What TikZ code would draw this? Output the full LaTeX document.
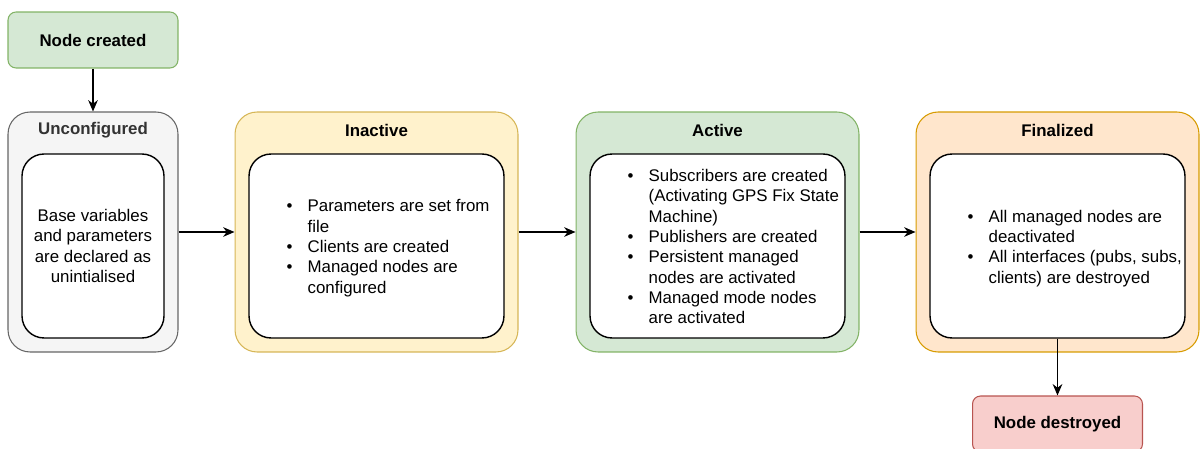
\documentclass[tikz,border=0pt]{standalone}
\usepackage{fontspec}
\setmainfont{Liberation Sans}
\usetikzlibrary{arrows.meta,positioning}

\definecolor{greenfill}{HTML}{D5E8D4}  \definecolor{greenline}{HTML}{82B366}
\definecolor{greyfill}{HTML}{F5F5F5}   \definecolor{greyline}{HTML}{666666}
\definecolor{yellowfill}{HTML}{FFF2CC} \definecolor{yellowline}{HTML}{D6B656}
\definecolor{orangefill}{HTML}{FFE6CC} \definecolor{orangeline}{HTML}{D79B00}
\definecolor{redfill}{HTML}{F8CECC}    \definecolor{redline}{HTML}{B85450}
\definecolor{greytext}{HTML}{333333}

\newcommand{\steplist}[1]{\begin{tabular}{@{}p{0.42cm}@{}l@{}}#1\end{tabular}}

\begin{document}
\begin{tikzpicture}[x=0.02cm, y=-0.02cm, >={Stealth[length=6.5pt,width=5.5pt]},
  font=\fontsize{9.6}{11.6}\selectfont,
  stage/.style={draw,rounded corners=0.44cm,line width=0.6pt,minimum width=5.66cm,minimum height=4.8cm},
  inner/.style={draw,fill=white,rounded corners=0.44cm,line width=0.8pt,minimum width=5.1cm,minimum height=3.68cm},
  endpoint/.style={draw,rounded corners=0.16cm,line width=0.6pt,minimum width=3.4cm,minimum height=1.12cm,
    font=\fontsize{9.6}{11.6}\selectfont\bfseries},
  title/.style={font=\fontsize{9.6}{11.6}\selectfont\bfseries},
  list/.style={inner sep=0pt,align=left,yshift=-0.05cm}]
\useasboundingbox (0,0) rectangle (1200,449);

% Start and end of the lifecycle.
\node[endpoint,fill=greenfill,draw=greenline] (created) at (93,40) {Node created};
\node[endpoint,fill=redfill,draw=redline] (destroyed) at (1057.5,424) {Node destroyed};

% Unconfigured
\node[stage,minimum width=3.4cm,fill=greyfill,draw=greyline] (unconf) at (93,232) {};
\node[title,text=greytext] (unconf-title) at (93,130) {Unconfigured};
\node[inner,minimum width=2.84cm,align=center] (unconf-in) at (93,246)
  {Base variables\\and parameters\\are declared as\\unintialised};

% Inactive
\node[stage,fill=yellowfill,draw=yellowline] (inact) at (376.5,232) {};
\node[title] (inact-title) at (376.5,130) {Inactive};
\node[inner] (inact-in) at (376.5,246) {};
\node[list,right=0.76cm of inact-in.west] (inact-list) {\steplist{%
  \textbullet & Parameters are set from\\ & file\\
  \textbullet & Clients are created\\
  \textbullet & Managed nodes are\\ & configured}};

% Active
\node[stage,fill=greenfill,draw=greenline] (active) at (717.5,232) {};
\node[title] (active-title) at (717.5,130) {Active};
\node[inner] (active-in) at (717.5,246) {};
\node[list,right=0.76cm of active-in.west] (active-list) {\steplist{%
  \textbullet & Subscribers are created\\ & (Activating GPS Fix State\\ & Machine)\\
  \textbullet & Publishers are created\\
  \textbullet & Persistent managed\\ & nodes are activated\\
  \textbullet & Managed mode nodes\\ & are activated}};

% Finalized
\node[stage,fill=orangefill,draw=orangeline] (final) at (1057.5,232) {};
\node[title] (final-title) at (1057.5,130) {Finalized};
\node[inner] (final-in) at (1057.5,246) {};
\node[list,right=0.76cm of final-in.west] (final-list) {\steplist{%
  \textbullet & All managed nodes are\\ & deactivated\\
  \textbullet & All interfaces (pubs, subs,\\ & clients) are destroyed}};

\draw[->,line width=0.6pt] (created) -- (unconf);
\draw[->,line width=0.6pt] (unconf) -- (inact);
\draw[->,line width=0.6pt] (inact) -- (active);
\draw[->,line width=0.6pt] (active) -- (final);
\draw[->,line width=0.6pt] (final-in) -- (destroyed);
\end{tikzpicture}
\end{document}
